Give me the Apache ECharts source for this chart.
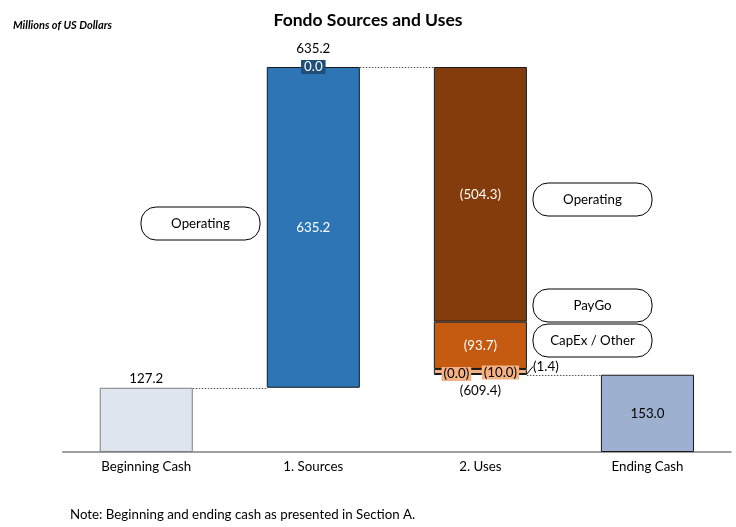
<!DOCTYPE html>
<html>
<head>
<meta charset="utf-8">
<script src="https://cdn.jsdelivr.net/npm/echarts@6/dist/echarts.min.js"></script>
<style>html,body{margin:0;padding:0;background:#fff}#c{width:736px;height:527px}</style>
</head>
<body>
<div id="c"></div>
<script>
var categories = ['Beginning Cash', '1. Sources', '2. Uses', 'Ending Cash'];
var beginningCash = 127.2;
var endingCash = 153.0;
var sourcesOperating = 635.2;
var sourcesOther = 0.0;
var usesOperating = 504.3;
var usesCapex = 93.7;
var usesPaygo = 0.0;
var usesOther = 10.0;
var usesSmall = 1.4;
var annotations = ['Operating', 'Operating', 'PayGo', 'CapEx / Other'];
var noteText = 'Note: Beginning and ending cash as presented in Section A.';

var FONT = 'Lato, "Liberation Sans", sans-serif';
var FS = 13.3;
var BAR_RATIO = 0.557;
var sourcesTotal = sourcesOperating + sourcesOther;
var usesTotal = usesOperating + usesCapex + usesPaygo + usesOther + usesSmall;
var topLevel = beginningCash + sourcesTotal;
var usesBase = topLevel - usesTotal;

function f(v) { return v.toFixed(1); }
function neg(v) { return '(' + v.toFixed(1) + ')'; }
function only(idx, v) { var a = ['-', '-', '-', '-']; a[idx] = v; return a; }
var BW = (BAR_RATIO * 100) + '%';

function seg(name, idx, v, color, label, extra, bw) {
  var s = {
    name: name, type: 'bar', stack: 'w', barWidth: BW,
    data: only(idx, v),
    itemStyle: { color: color, borderColor: '#1a1a1a', borderWidth: bw === undefined ? 1 : bw },
    label: Object.assign({ show: true, fontFamily: FONT, fontSize: FS }, label),
    emphasis: { disabled: true }, animation: false
  };
  return Object.assign(s, extra || {});
}

var chart = echarts.init(document.getElementById('c'));
var option = {
  animation: false,
  title: {
    text: 'Fondo Sources and Uses', left: 'center', top: 6,
    textStyle: { fontFamily: FONT, fontSize: 17.5, fontWeight: 'bold', color: '#000' }
  },
  grid: { left: 62.7, right: 5, top: 48, bottom: 75 },
  xAxis: {
    type: 'category', data: categories,
    axisLine: { lineStyle: { color: '#808080', width: 1.5 } },
    axisTick: { show: false },
    axisLabel: { fontFamily: FONT, fontSize: FS, color: '#000', margin: 8 }
  },
  yAxis: { type: 'value', min: 0, max: 800, show: false, splitLine: { show: false } },
  graphic: [
    { id: 'sub', type: 'text', left: 13, top: 20, style: { text: 'Millions of US Dollars', font: 'italic bold 11px ' + FONT, fill: '#000' } },
    { id: 'note', type: 'text', left: 70, top: 508, style: { text: noteText, font: FS + 'px ' + FONT, fill: '#000' } }
  ].concat([
    [141, 207, annotations[0]],
    [533, 183, annotations[1]],
    [533, 289, annotations[2]],
    [533, 324, annotations[3]]
  ].map(function (b, i) {
    return {
      id: 'ann' + i, type: 'group', x: b[0], y: b[1], children: [
        { type: 'rect', shape: { x: 0, y: 0, width: 119, height: 33, r: 15 }, style: { fill: '#fff', stroke: '#000', lineWidth: 1 } },
        { type: 'text', x: 59.5, y: 16.5, style: { text: b[2], font: FS + 'px ' + FONT, fill: '#000', align: 'center', verticalAlign: 'middle' } }
      ]
    };
  })),
  series: [
    {
      name: 'base', type: 'bar', stack: 'w', barWidth: BW,
      data: ['-', beginningCash, usesBase, '-'],
      itemStyle: { color: 'transparent' },
      label: {
        show: true, position: 'insideTop', distance: 9, fontFamily: FONT, fontSize: FS, color: '#000',
        formatter: function (p) { return p.dataIndex === 2 ? neg(usesTotal) : ''; }
      },
      emphasis: { disabled: true }
    },
    {
      name: 'cash', type: 'bar', stack: 'w', barWidth: BW,
      data: [
        { value: beginningCash, itemStyle: { color: '#DEE5EF', borderColor: '#7f7f7f', borderWidth: 1 },
          label: { position: 'top', distance: 3 } },
        '-', '-',
        { value: endingCash, itemStyle: { color: '#9DB0CF', borderColor: '#1a1a1a', borderWidth: 1 },
          label: { position: 'inside' } }
      ],
      label: { show: true, fontFamily: FONT, fontSize: FS, color: '#000', formatter: function (p) { return f(p.value); } },
      emphasis: { disabled: true }
    },
    seg('sourcesOperating', 1, sourcesOperating, '#2E75B6',
      { position: 'inside', color: '#fff', formatter: function (p) { return f(p.value); } }),
    seg('sourcesOther', 1, sourcesOther, '#1F4E79',
      { position: 'inside', color: '#fff', backgroundColor: '#1F4E79', padding: [1, 3, 0, 3],
        formatter: function (p) { return f(p.value); } }, null, 0),
    seg('usesSmall', 2, usesSmall, '#F4B183',
      { position: 'right', distance: 2, color: '#000', formatter: function (p) { return neg(p.value); } },
      { labelLayout: { dx: 4, dy: -8 }, labelLine: { show: true, lineStyle: { color: '#000', width: 1 } } }),
    seg('usesOther', 2, usesOther, '#F4B183',
      { position: 'inside', offset: [20, 1], color: '#000', backgroundColor: '#F4B183', padding: [1, 2, 0, 2],
        formatter: function (p) { return neg(p.value); } }),
    seg('usesPaygo', 2, usesPaygo, '#F4B183',
      { position: 'inside', offset: [-24, 5], color: '#000', backgroundColor: '#F4B183', padding: [1, 2, 0, 2],
        formatter: function (p) { return neg(p.value); } }, null, 0),
    seg('usesCapex', 2, usesCapex, '#C55A11',
      { position: 'inside', color: '#fff', formatter: function (p) { return neg(p.value); } }),
    seg('usesOperating', 2, usesOperating, '#843C0C',
      { position: 'inside', color: '#fff', formatter: function (p) { return neg(p.value); } }),
    {
      name: 'total', type: 'bar', stack: 'w', barWidth: BW,
      data: only(1, 0),
      itemStyle: { color: 'transparent' },
      label: { show: true, position: 'top', distance: 12, fontFamily: FONT, fontSize: FS, color: '#000',
        formatter: function () { return f(sourcesTotal); } },
      emphasis: { disabled: true }
    }
  ]
};
chart.setOption(option);

// dotted connectors between bar edges, positioned through the chart's own scales
var band = (chart.convertToPixel({ xAxisIndex: 0 }, categories[1]) - chart.convertToPixel({ xAxisIndex: 0 }, categories[0]));
var half = band * BAR_RATIO / 2;
var links = [[0, 1, beginningCash], [1, 2, topLevel], [2, 3, usesBase]];
chart.setOption({
  graphic: links.map(function (l, i) {
    var x1 = chart.convertToPixel({ xAxisIndex: 0 }, categories[l[0]]) + half;
    var x2 = chart.convertToPixel({ xAxisIndex: 0 }, categories[l[1]]) - half;
    var y = Math.round(chart.convertToPixel({ yAxisIndex: 0 }, l[2])) + 0.5;
    return {
      id: 'link' + i, type: 'line', z: 1, silent: true,
      shape: { x1: x1, y1: y, x2: x2, y2: y },
      style: { stroke: '#555', lineWidth: 1, lineDash: [1.5, 1.5] }
    };
  })
});
</script>
</body>
</html>
